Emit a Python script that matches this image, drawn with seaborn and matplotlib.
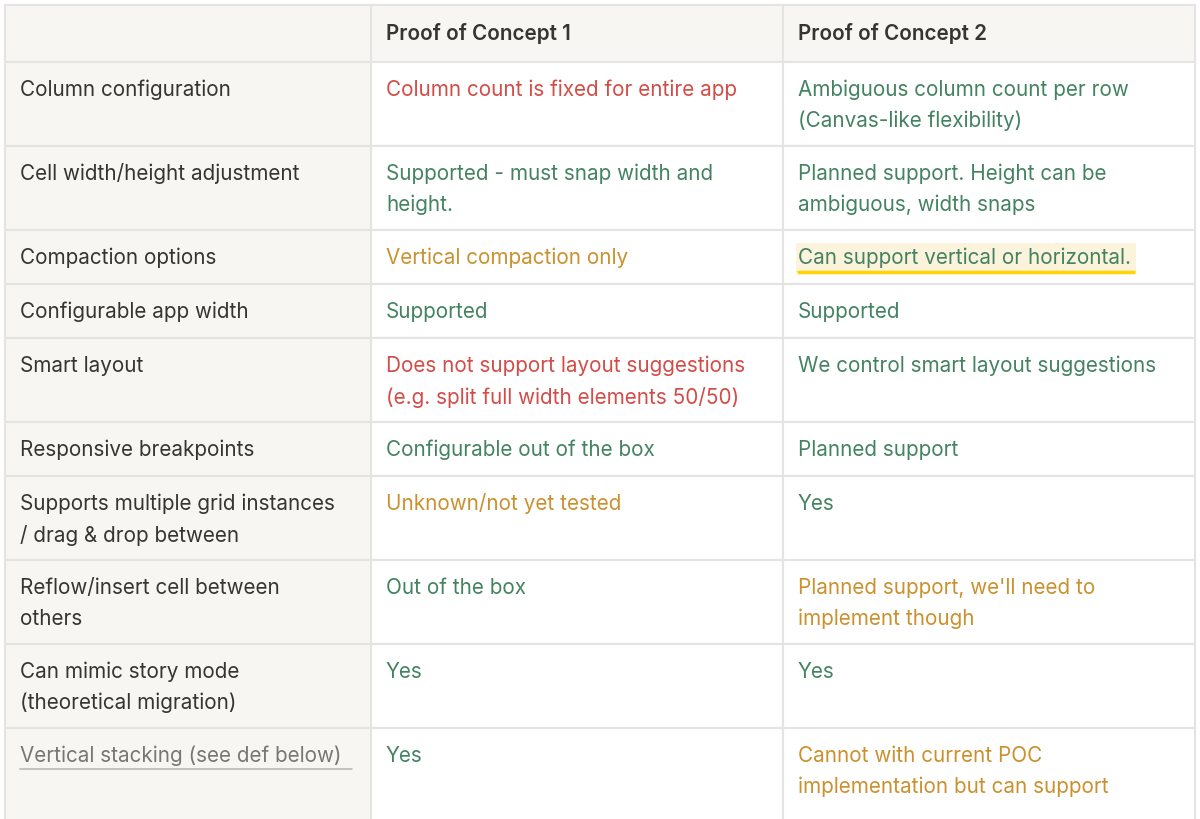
import seaborn as sns
import matplotlib.pyplot as plt
from matplotlib.patches import Rectangle

sns.set_theme(style="white")
plt.rcParams['font.family'] = ['Inter', 'DejaVu Sans']

headers = ["", "Proof of Concept 1", "Proof of Concept 2"]
features = [
    ["Column configuration"],
    ["Cell width/height adjustment"],
    ["Compaction options"],
    ["Configurable app width"],
    ["Smart layout"],
    ["Responsive breakpoints"],
    ["Supports multiple grid instances", "/ drag & drop between"],
    ["Reflow/insert cell between", "others"],
    ["Can mimic story mode", "(theoretical migration)"],
    ["Vertical stacking (see def below)"],
]
poc1 = [
    ["Column count is fixed for entire app"],
    ["Supported - must snap width and", "height."],
    ["Vertical compaction only"],
    ["Supported"],
    ["Does not support layout suggestions", "(e.g. split full width elements 50/50)"],
    ["Configurable out of the box"],
    ["Unknown/not yet tested"],
    ["Out of the box"],
    ["Yes"],
    ["Yes"],
]
poc1_status = ["bad", "good", "mid", "good", "bad", "good", "mid", "good", "good", "good"]
poc2 = [
    ["Ambiguous column count per row", "(Canvas-like flexibility)"],
    ["Planned support. Height can be", "ambiguous, width snaps"],
    ["Can support vertical or horizontal."],
    ["Supported"],
    ["We control smart layout suggestions"],
    ["Planned support"],
    ["Yes"],
    ["Planned support, we'll need to", "implement though"],
    ["Yes"],
    ["Cannot with current POC", "implementation but can support"],
]
poc2_status = ["good", "good", "good", "good", "good", "good", "good", "mid", "good", "mid"]

colors = {"bad": "#D44C47", "good": "#448361", "mid": "#CB912F"}
TEXT = "#37352F"
GRAY_BG = "#F7F6F3"
BORDER = "#E4E4E2"
col_x = [5, 371, 783, 1195]
FS = 14.9

fig = plt.figure(figsize=(12, 8.19), dpi=100)
ax = fig.add_axes([0, 0, 1, 1])
ax.set_xlim(0, 1200)
ax.set_ylim(819, 0)
ax.axis("off")


def cell(x0, x1, y0, y1, bg):
    ax.add_patch(Rectangle((x0, y0), x1 - x0, y1 - y0, facecolor=bg,
                           edgecolor=BORDER, linewidth=1.5))


def lines_text(x, y, lines, color, weight="normal", dy=28):
    for i, s in enumerate(lines):
        ax.text(x, y + dy + 31 * i, s, color=color, fontsize=FS,
                fontweight=weight, va="center", ha="left")


# header row
y = 5
h = 57
cell(col_x[0], col_x[1], y, y + h, GRAY_BG)
for c in (1, 2):
    cell(col_x[c], col_x[c + 1], y, y + h, GRAY_BG)
    lines_text(col_x[c] + 15, y, [headers[c]], TEXT, "semibold", dy=29)
y += h

for i in range(len(features)):
    n = max(len(features[i]), len(poc1[i]), len(poc2[i]))
    h = 24 + 30 * n
    if i == len(features) - 1:
        h += 10
    cell(col_x[0], col_x[1], y, y + h, GRAY_BG)
    cell(col_x[1], col_x[2], y, y + h, "white")
    cell(col_x[2], col_x[3], y, y + h, "white")
    if i == len(features) - 1:
        lines_text(col_x[0] + 15, y, features[i], "#787774")
        ax.plot([col_x[0] + 15, col_x[0] + 347], [y + 41, y + 41],
                color="#B9B8B5", lw=1.2)
    else:
        lines_text(col_x[0] + 15, y, features[i], TEXT)
    lines_text(col_x[1] + 15, y, poc1[i], colors[poc1_status[i]])
    if poc2[i][0].startswith("Can support"):
        ax.add_patch(Rectangle((col_x[2] + 13, y + 13), 340, 29,
                               facecolor="#FBF3DB", edgecolor="none"))
        ax.plot([col_x[2] + 14, col_x[2] + 352], [y + 42, y + 42],
                color="#FFD400", lw=2.5, solid_capstyle="butt")
    lines_text(col_x[2] + 15, y, poc2[i], colors[poc2_status[i]])
    y += h

fig.savefig("out.png", dpi=100, facecolor="white")
